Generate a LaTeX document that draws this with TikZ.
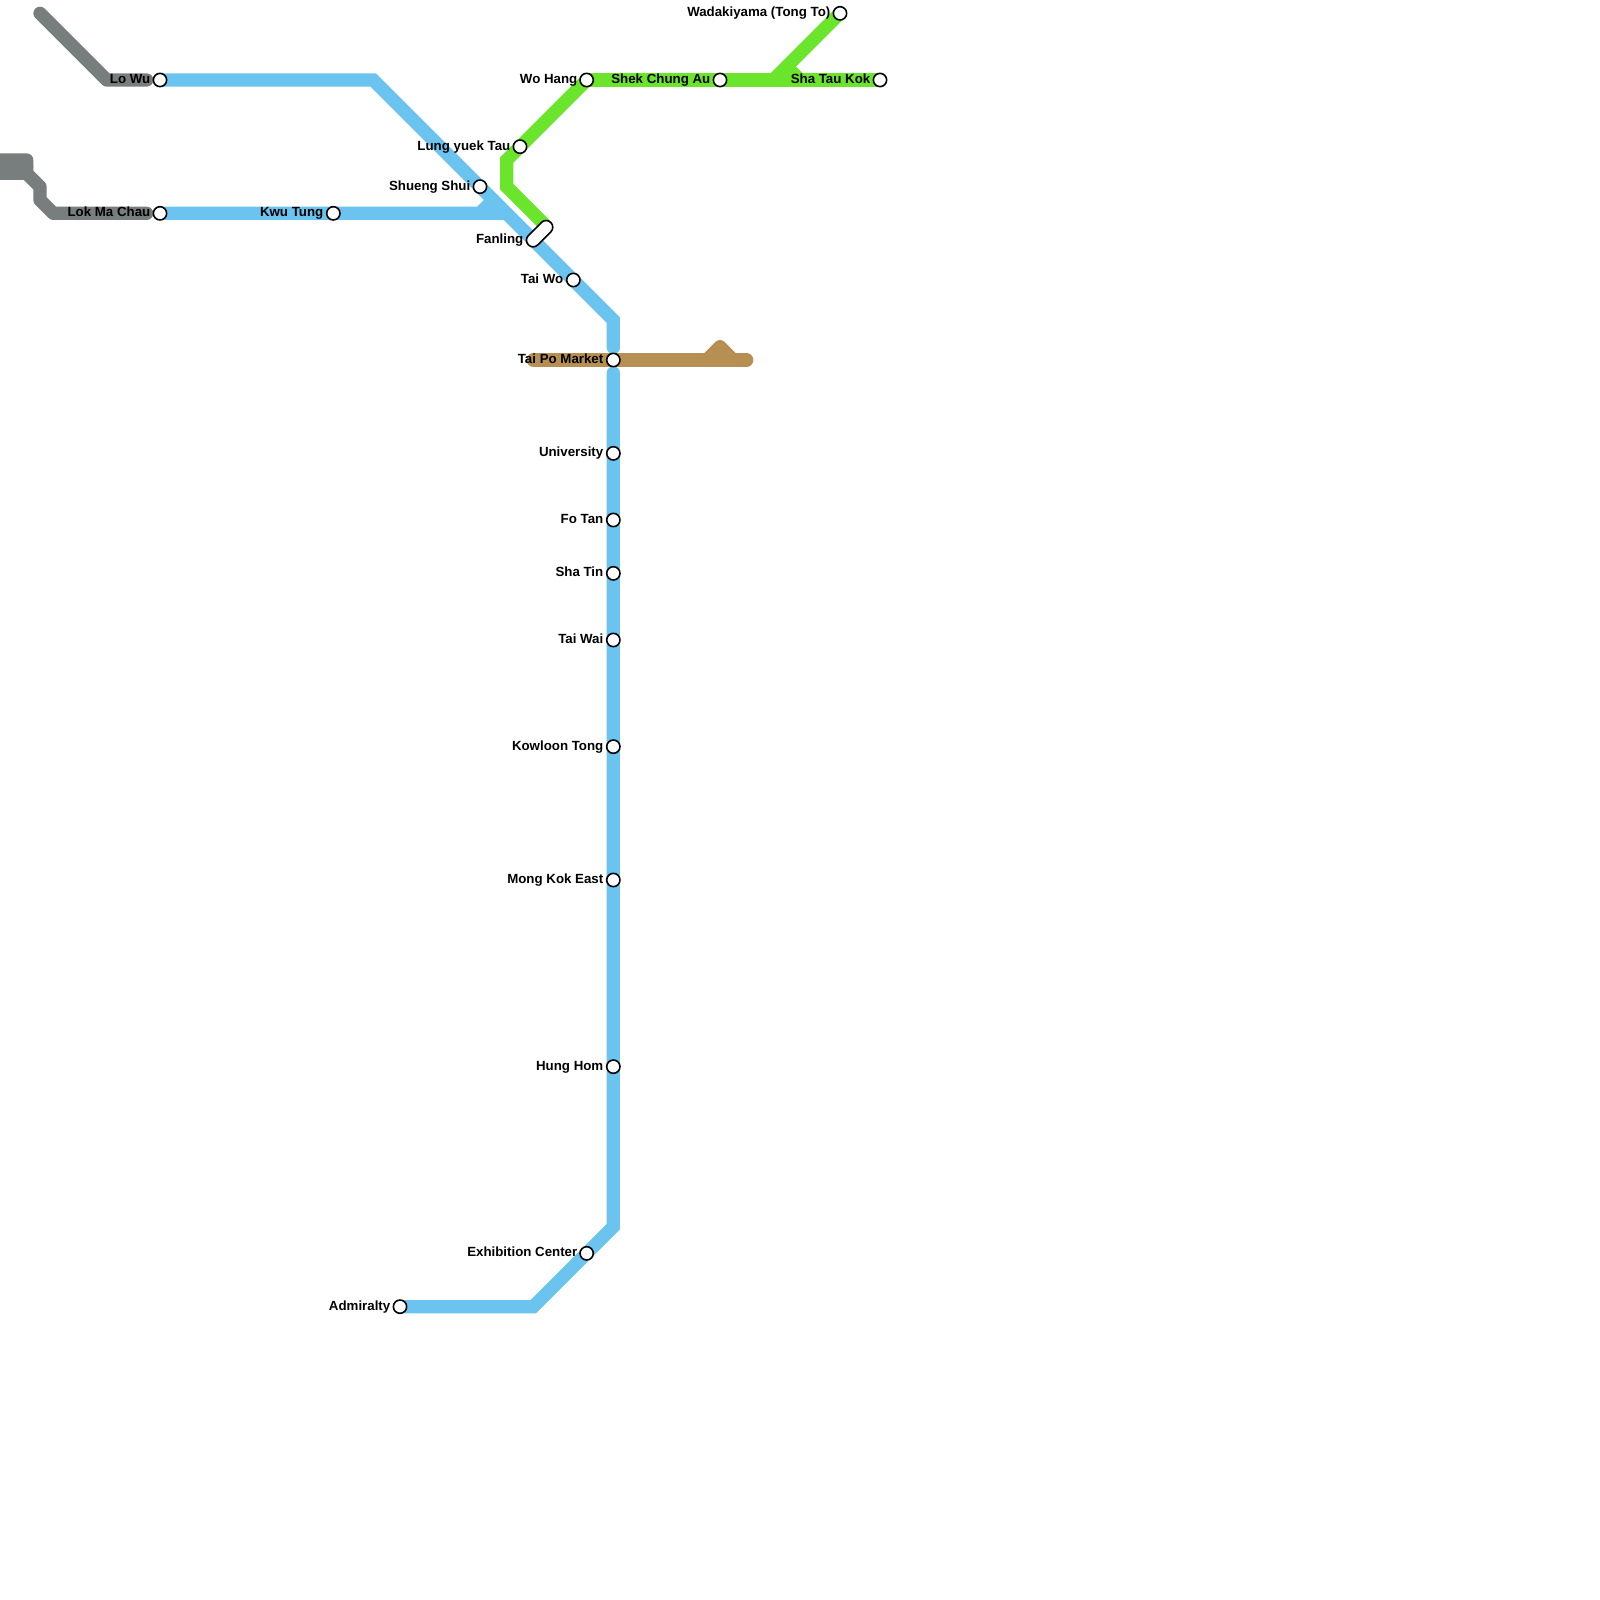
\documentclass[tikz,border=0pt]{standalone}
\usepackage{fontspec}
\setmainfont{Liberation Sans}
\usetikzlibrary{backgrounds}
\definecolor{lineblue}{HTML}{6BC3EF}
\definecolor{linegreen}{HTML}{6AE52B}
\definecolor{linegrey}{HTML}{787D7D}
\definecolor{linebrown}{HTML}{B68F52}
\tikzset{
  stn/.style={circle,draw=black,fill=white,line width=0.45pt,minimum size=3.78pt,inner sep=0pt,outer sep=0pt},
  lbl/.style={anchor=base east,inner sep=0pt,font=\fontsize{3.78pt}{4.5pt}\selectfont\bfseries,text=black},
  route/.style={line width=3.78pt},
  grey/.style={route,draw=linegrey,line cap=round,line join=round},
  blue/.style={route,draw=lineblue,line join=miter,line cap=round},
  green/.style={route,draw=linegreen,line join=miter},
  brown/.style={route,draw=linebrown,line cap=round,line join=round},
}
\begin{document}
\begin{tikzpicture}[x=0.01cm,y=-0.01cm]
\useasboundingbox (0,0) rectangle (1600,1600);
% stations
\node[stn] (lowu) at (160,80) {};
\node[stn] (lokma) at (160,213.33) {};
\node[stn] (kwutung) at (333.33,213.33) {};
\node[stn] (shueng) at (480,186.67) {};
\node[stn] (taiwo) at (573.33,280) {};
\node[stn] (taipo) at (613.33,360) {};
\node[stn] (univ) at (613.33,453.33) {};
\node[stn] (fotan) at (613.33,520) {};
\node[stn] (shatin) at (613.33,573.33) {};
\node[stn] (taiwai) at (613.33,640) {};
\node[stn] (kowloon) at (613.33,746.67) {};
\node[stn] (mongkok) at (613.33,880) {};
\node[stn] (hunghom) at (613.33,1066.67) {};
\node[stn] (exhib) at (586.67,1253.33) {};
\node[stn] (admiralty) at (400,1306.67) {};
\node[stn] (wohang) at (586.67,80) {};
\node[stn] (lungyuek) at (520,146.67) {};
\node[stn] (shekchung) at (720,80) {};
\node[stn] (shatau) at (880,80) {};
\node[stn] (wadaki) at (840,13.33) {};
\node[draw=black,fill=white,line width=0.45pt,rotate=45,minimum width=9pt,minimum height=3.78pt,inner sep=0pt,outer sep=0pt,rounded corners=1.87pt] (fanling) at (539.6,233.7) {};
% labels
\node[lbl] (tlowu) at (151,83.6) {Lo Wu};
\node[lbl] (tlokma) at (151,216.7) {Lok Ma Chau};
\node[lbl] (tkwutung) at (324,216.7) {Kwu Tung};
\node[lbl] (tshueng) at (471,190.2) {Shueng Shui};
\node[lbl] (tfanling) at (524,243.3) {Fanling};
\node[lbl] (ttaiwo) at (564,283.6) {Tai Wo};
\node[lbl] (ttaipo) at (604,363.5) {Tai Po Market};
\node[lbl] (tuniv) at (604,456.7) {University};
\node[lbl] (tfotan) at (604,523.5) {Fo Tan};
\node[lbl] (tshatin) at (604,576.7) {Sha Tin};
\node[lbl] (ttaiwai) at (604,643.5) {Tai Wai};
\node[lbl] (tkowloon) at (604,750.2) {Kowloon Tong};
\node[lbl] (tmongkok) at (604,883.5) {Mong Kok East};
\node[lbl] (thunghom) at (604,1070.2) {Hung Hom};
\node[lbl] (texhib) at (578,1256.7) {Exhibition Center};
\node[lbl] (tadmiralty) at (391,1310.2) {Admiralty};
\node[lbl] (twohang) at (578,83.6) {Wo Hang};
\node[lbl] (tlungyuek) at (511,150.2) {Lung yuek Tau};
\node[lbl] (tshekchung) at (711,83.6) {Shek Chung Au};
\node[lbl] (tshatau) at (871,83.6) {Sha Tau Kok};
\node[lbl] (twadaki) at (831,16.8) {Wadakiyama (Tong To)};
% free ends and bends
\coordinate (g1) at (40,13.33);
\coordinate (g2) at (106.67,80);
\coordinate (g3) at (146.67,80);
\coordinate (g4) at (146.67,213.33);
\coordinate (b1) at (373.33,80);
\coordinate (b2) at (613.33,320);
\coordinate (b3) at (613.33,347.5);
\coordinate (b4) at (613.33,373);
\coordinate (b5) at (613.33,1226.67);
\coordinate (b6) at (533.33,1306.67);
\coordinate (fne) at (546.67,226.67);
\begin{scope}[on background layer]
\draw[grey] (g1) -- (g2) -- (g3);
\draw[grey] (g4) -- (53.33,213.33) -- (40,200) -- (40,186.67) -- (26.67,173.33) -- (26.67,160) -- (0,160);
\draw[grey] (26.67,173.33) -- (0,173.33);
\draw[grey] (26.67,166.67) -- (0,166.67);
\draw[blue] (lowu.center) -- (b1) -- (b2) -- (b3);
\draw[blue] (lokma.center) -- (480,213.33) -- (493.33,200);
\draw[blue] (480,213.33) -- (506.67,213.33);
\draw[blue] (b4) -- (b5) -- (b6) -- (admiralty.center);
\draw[green] (wohang.center) -- (shatau.center);
\draw[green] (wadaki.center) -- (773.33,80);
\draw[green] (786.67,66.67) -- (800,80);
\draw[green] (wohang.center) -- (lungyuek.center) -- (506.67,160) -- (506.67,186.67) -- (fne);
\draw[brown] (533.33,360) -- (746.67,360);
\draw[brown] (706.67,360) -- (720,346.67) -- (733.33,360);
\end{scope}
\end{tikzpicture}
\end{document}
